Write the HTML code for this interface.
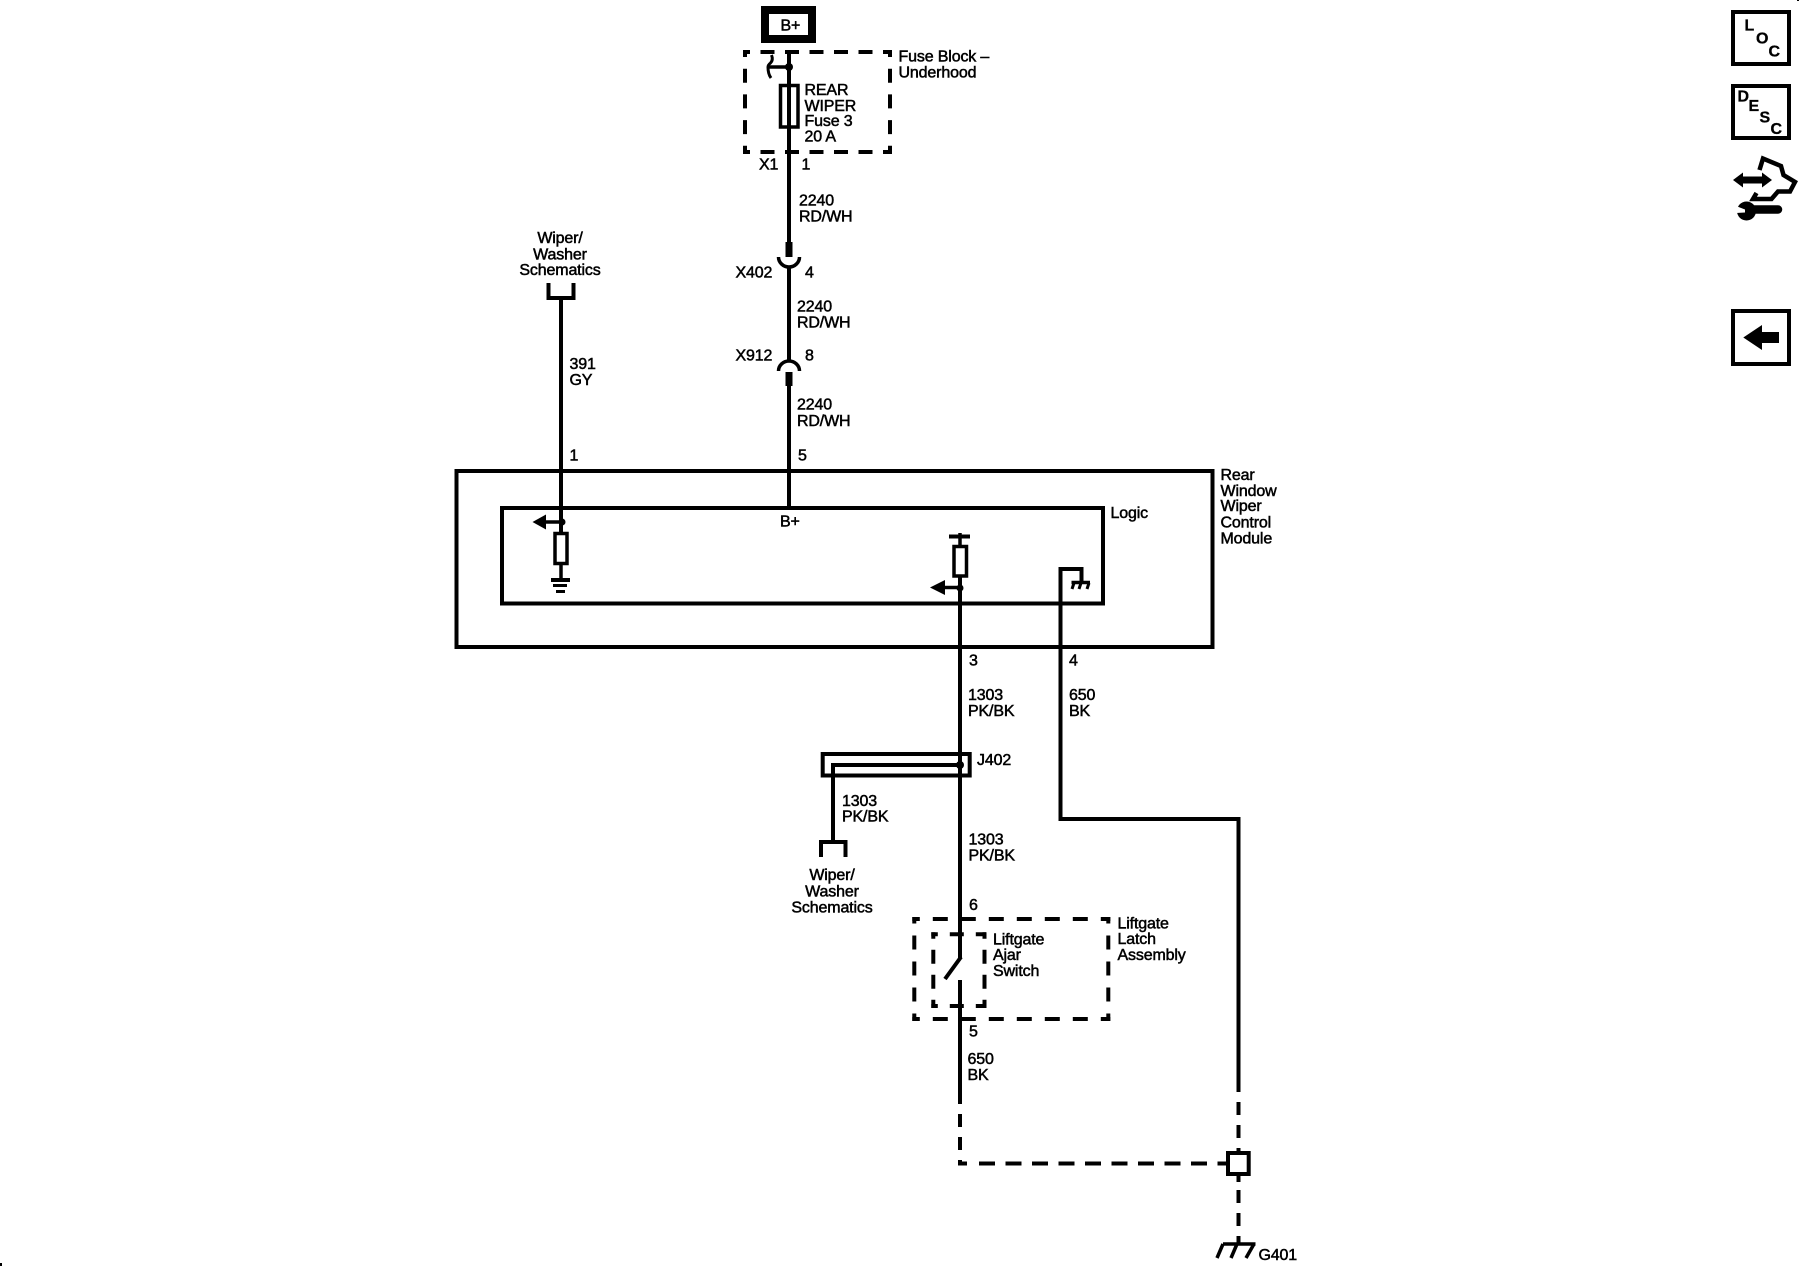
<!DOCTYPE html>
<html><head><meta charset="utf-8"><title>Rear Window Wiper Schematic</title>
<style>
html,body{margin:0;padding:0;background:#fff;width:1800px;height:1280px;overflow:hidden}
svg{display:block}
text{font-family:"Liberation Sans",sans-serif;font-size:16px;letter-spacing:-.15px;fill:#000;stroke:#000;stroke-width:.5px}
.w{fill:none;stroke:#000;stroke-width:4}
.t{stroke-width:3.5}
.n{fill:none;stroke:#000;stroke-width:4}
.b{font-weight:bold;stroke-width:.3px;letter-spacing:0}
.m{text-anchor:middle}
</style></head><body>
<svg width="1800" height="1280" viewBox="0 0 1800 1280" xmlns="http://www.w3.org/2000/svg">
<rect x="0" y="1263" width="2" height="3" fill="#000"/>
<rect x="1797" y="0" width="2" height="1" fill="#000"/>

<!-- B+ -->
<rect x="765" y="10" width="47" height="29" fill="none" stroke="#000" stroke-width="8"/>
<text x="780.500" y="30.500">B+</text>

<!-- Fuse block dashed -->
<g class="n" stroke-dashoffset="7">
<line x1="743" y1="52" x2="892" y2="52" class="n" stroke-dasharray="14 10.5"/>
<line x1="743" y1="152" x2="892" y2="152" class="n" stroke-dasharray="14 10.5"/>
<line x1="745" y1="50" x2="745" y2="154" class="n" stroke-dasharray="14 11.7"/>
<line x1="890" y1="50" x2="890" y2="154" class="n" stroke-dasharray="14 11.7"/>
</g>

<!-- Main B+ wire -->
<line x1="789" y1="50" x2="789" y2="242" class="w"/>
<rect x="785.500" y="242" width="7" height="15" fill="#000"/>
<path d="M771.500 55q2 5-1 8q-2.500 2-2.500 4q0 7 3 11" class="w" style="stroke-width:3"/>
<line x1="769" y1="67" x2="789" y2="67" class="w t"/>
<circle cx="789" cy="67" r="4" fill="#000"/>
<rect x="780.500" y="85.500" width="17.500" height="41.500" fill="#fff" stroke="#000" stroke-width="3.500"/>
<line x1="789" y1="85" x2="789" y2="127" class="w"/>
<path d="M778.500 257a10.500 10 0 0 0 21 0" class="w t"/>
<line x1="789" y1="266" x2="789" y2="362" class="w"/>
<path d="M778.500 371a10.500 10 0 0 1 21 0" class="w t"/>
<rect x="785.500" y="372" width="7" height="14" fill="#000"/>
<line x1="789" y1="385" x2="789" y2="509" class="w"/>

<!-- Left wire -->
<path d="M548.500 283v15h25v-15" class="w"/>
<line x1="561" y1="298" x2="561" y2="532" class="w"/>

<!-- Boxes -->
<rect x="456.500" y="471" width="756" height="176" class="w"/>
<rect x="502" y="508" width="601" height="95.500" class="w"/>

<!-- Left pull-down -->
<circle cx="562" cy="522" r="3.500" fill="#000"/>
<line x1="545" y1="522" x2="562" y2="522" class="w t"/>
<polygon points="532.500,522 546,514.500 546,529.500" fill="#000"/>
<rect x="555" y="533.500" width="12" height="30" fill="#fff" stroke="#000" stroke-width="3.500"/>
<line x1="561" y1="565" x2="561" y2="580" class="w t"/>
<line x1="551" y1="580" x2="570" y2="580" class="w"/>
<line x1="553" y1="585.500" x2="567" y2="585.500" class="w" style="stroke-width:3"/>
<line x1="556" y1="591.500" x2="565" y2="591.500" class="w" style="stroke-width:3"/>

<!-- Right pull-up -->
<line x1="960" y1="533" x2="960" y2="546" class="w t"/>
<line x1="949" y1="536.500" x2="970" y2="536.500" class="w"/>
<rect x="954" y="546.500" width="12.500" height="29.500" fill="#fff" stroke="#000" stroke-width="3.500"/>
<circle cx="960" cy="588" r="3.500" fill="#000"/>
<line x1="945" y1="587.500" x2="960" y2="587.500" class="w t"/>
<polygon points="930,587.500 945,580 945,595" fill="#000"/>
<line x1="960" y1="577" x2="960" y2="958" class="w"/>

<!-- Logic ground wire -->
<path d="M1060.500 819V569h21v13" class="w"/>
<line x1="1071.500" y1="582.500" x2="1090" y2="582.500" class="w t"/>
<path d="M1074 583l-2 6M1081 583l-2 6M1089 583l-2 6" class="w" style="stroke-width:3"/>
<path d="M1058.500 819H1238.500V1092" class="w"/>

<!-- J402 -->
<rect x="822.700" y="754" width="147" height="21.500" class="w"/>
<path d="M833 842V765H960" class="w"/>
<circle cx="960" cy="765" r="4" fill="#000"/>
<path d="M821 857v-15h24.500v15" class="w"/>

<!-- Switch -->
<line x1="961" y1="957" x2="945" y2="979" class="w"/>
<line x1="960" y1="980" x2="960" y2="1104" class="w"/>
<line x1="960" y1="1114" x2="960" y2="1163.500" class="w" stroke-dasharray="13 10"/>
<line x1="958" y1="1163.500" x2="1226" y2="1163.500" class="w" stroke-dasharray="9 12 16 10.500 16 10.500 16 10.500 16 10.500 16 10.500 16 10.500 16 10.500 16 10.500 16 10.500 16 10.500"/>

<!-- Outer dashed -->
<g stroke-dashoffset="7.500">
<line x1="912.300" y1="919" x2="1110.300" y2="919" class="n" stroke-dasharray="15 13"/>
<line x1="912.300" y1="1019" x2="1110.300" y2="1019" class="n" stroke-dasharray="15 13"/>
<line x1="914.300" y1="917" x2="914.300" y2="1021" class="n" stroke-dasharray="14 12"/>
<line x1="1108.300" y1="917" x2="1108.300" y2="1021" class="n" stroke-dasharray="14 12"/>
<line x1="931.300" y1="934.300" x2="986" y2="934.300" class="n" stroke-dasharray="14 12"/>
<line x1="931.300" y1="1006" x2="986" y2="1006" class="n" stroke-dasharray="14 12"/>
<line x1="933.300" y1="932.300" x2="933.300" y2="1008" class="n" stroke-dasharray="14 11"/>
<line x1="984.500" y1="932.300" x2="984.500" y2="1008" class="n" stroke-dasharray="14 11"/>
</g>

<!-- Splice -->
<line x1="1238.500" y1="1102" x2="1238.500" y2="1152" class="w" stroke-dasharray="13 10"/>
<rect x="1228" y="1153" width="20.700" height="21" fill="#fff" stroke="#000" stroke-width="4"/>
<line x1="1238.500" y1="1176" x2="1238.500" y2="1182" class="w"/>
<line x1="1238.500" y1="1190" x2="1238.500" y2="1243" class="w" stroke-dasharray="13 10"/>
<line x1="1223" y1="1244" x2="1255.500" y2="1244" class="w t"/>
<path d="M1223 1244l-6 14M1237 1244l-6 14M1254 1244l-8 14" class="w t"/>

<!-- Labels -->
<text x="898.500" y="61.500">Fuse Block –</text>
<text x="898.500" y="77.300">Underhood</text>
<text x="804.500" y="95">REAR</text>
<text x="804.500" y="111">WIPER</text>
<text x="804.500" y="126">Fuse 3</text>
<text x="804.500" y="141.700">20 A</text>
<text x="759" y="169.300">X1</text>
<text x="801.500" y="169.300">1</text>
<text x="799" y="205.700">2240</text>
<text x="799" y="221.700">RD/WH</text>
<text x="735.500" y="277.700">X402</text>
<text x="805" y="277.700">4</text>
<text x="797" y="311.700">2240</text>
<text x="797" y="327.300">RD/WH</text>
<text x="735.500" y="360.700">X912</text>
<text x="805" y="360.700">8</text>
<text x="797" y="409.300">2240</text>
<text x="797" y="426">RD/WH</text>
<text x="560" y="243" class="m">Wiper/</text>
<text x="560" y="259.300" class="m">Washer</text>
<text x="560" y="275" class="m">Schematics</text>
<text x="569.500" y="369">391</text>
<text x="569.500" y="385">GY</text>
<text x="569.500" y="460.700">1</text>
<text x="798" y="460.700">5</text>
<text x="780" y="526.700">B+</text>
<text x="1110.500" y="518">Logic</text>
<text x="1220.500" y="480">Rear</text>
<text x="1220.500" y="496">Window</text>
<text x="1220.500" y="511">Wiper</text>
<text x="1220.500" y="527.300">Control</text>
<text x="1220.500" y="543.300">Module</text>
<text x="969" y="665.700">3</text>
<text x="1069" y="665.700">4</text>
<text x="968" y="700">1303</text>
<text x="968" y="716">PK/BK</text>
<text x="1069" y="700">650</text>
<text x="1069" y="716">BK</text>
<text x="977" y="765">J402</text>
<text x="842" y="806">1303</text>
<text x="842" y="821.700">PK/BK</text>
<text x="968.500" y="844.300">1303</text>
<text x="968.500" y="860.700">PK/BK</text>
<text x="832" y="880" class="m">Wiper/</text>
<text x="832" y="896.700" class="m">Washer</text>
<text x="832" y="912.300" class="m">Schematics</text>
<text x="969" y="910">6</text>
<text x="1117.500" y="928.300">Liftgate</text>
<text x="1117.500" y="944">Latch</text>
<text x="1117.500" y="960">Assembly</text>
<text x="993" y="944.300">Liftgate</text>
<text x="993" y="960">Ajar</text>
<text x="993" y="976">Switch</text>
<text x="969" y="1036.700">5</text>
<text x="967.500" y="1064">650</text>
<text x="967.500" y="1080">BK</text>
<text x="1258.500" y="1260">G401</text>

<!-- Right icons -->
<rect x="1733" y="12" width="56" height="52" class="w"/>
<text x="1744.500" y="30.700" class="b">L</text>
<text x="1756" y="43.300" class="b">O</text>
<text x="1768.500" y="56.700" class="b">C</text>
<rect x="1733" y="86" width="56" height="52" class="w"/>
<text x="1737.500" y="101.700" class="b">D</text>
<text x="1748.500" y="111" class="b">E</text>
<text x="1759.500" y="122.700" class="b">S</text>
<text x="1770.500" y="134" class="b">C</text>

<path d="M1759.500 170L1763 158.500L1781 166L1783.500 175L1795 182L1790 191.500L1778 191.500L1771.500 199L1753 199L1756.500 193" class="w" style="stroke-width:4.500"/>
<polygon points="1733,180 1743,172.500 1743,176.500 1762,176.500 1762,172.500 1772,180 1762,187.500 1762,183.500 1743,183.500 1743,187.500" fill="#000"/>
<line x1="1752" y1="209.500" x2="1778" y2="209.500" stroke="#000" stroke-width="8.500" stroke-linecap="round"/>
<circle cx="1746.500" cy="211" r="9.500" fill="#000"/>
<polygon points="1736,206 1745,209.500 1745,212.500 1736,213" fill="#fff"/>

<rect x="1733" y="311" width="56" height="53" class="w"/>
<polygon points="1743.300,337.500 1762,325 1762,332 1779,332 1779,343 1762,343 1762,350" fill="#000"/>
</svg>
</body></html>
